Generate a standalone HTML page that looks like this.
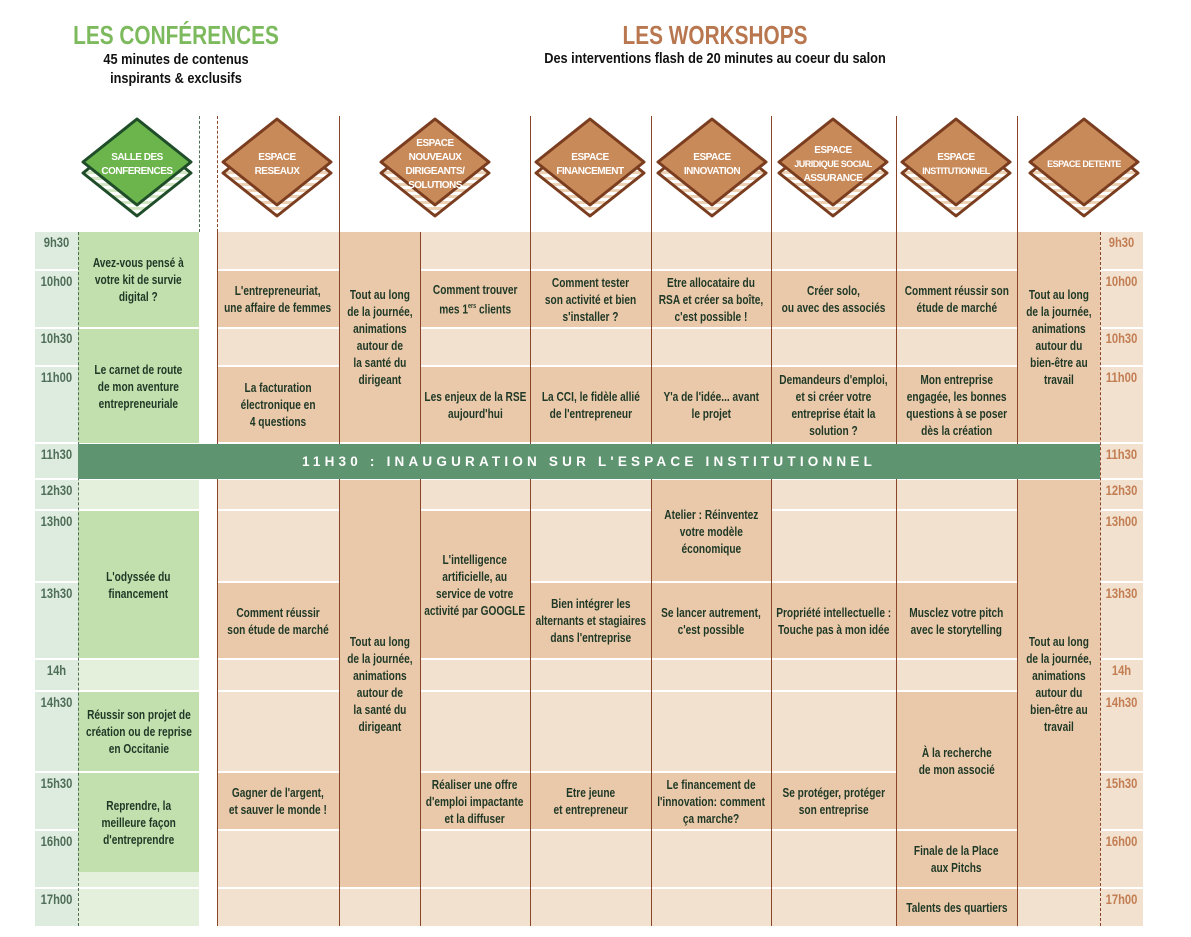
<!DOCTYPE html>
<html><head><meta charset="utf-8">
<style>
*{margin:0;padding:0;box-sizing:border-box}
body{width:1191px;height:937px;background:#fff;position:relative;overflow:hidden;font-family:"Liberation Sans",sans-serif;}
.a{position:absolute}
.c{position:absolute;display:flex;align-items:center;justify-content:center;text-align:center;font-weight:bold;font-size:13px;line-height:17px;color:#1f3826;}
.c span{display:inline-block;white-space:nowrap;transform:scaleX(.78)}
.d{background:#e9c9aa}
.g{background:#c2dfae}
.t{position:absolute;font-weight:bold;font-size:14px;text-align:center;width:43px;transform:scaleX(.8)}
.tl{color:#4f6e58}
.tr{color:#c27d52}
.hl{position:absolute;height:2px;background:#fff}
.vl{position:absolute;width:1px;background:#8a4528}
</style></head><body>

<div class="a" style="left:40px;top:20px;width:272px;text-align:center;font-weight:bold;font-size:26px;color:#7dba5e;transform:scaleX(.8)">LES CONFÉRENCES</div>
<div class="a" style="left:40px;top:50px;width:272px;text-align:center;font-size:15px;line-height:19px;color:#111;font-weight:bold;transform:scaleX(.85)">45 minutes de contenus<br>inspirants &amp; exclusifs</div>
<div class="a" style="left:515px;top:20px;width:400px;text-align:center;font-weight:bold;font-size:26px;color:#b9774f;transform:scaleX(.8)">LES WORKSHOPS</div>
<div class="a" style="left:415px;top:50px;width:600px;text-align:center;font-size:15px;color:#111;font-weight:bold;transform:scaleX(.85)">Des interventions flash de 20 minutes au coeur du salon</div>

<div class="a" style="left:199px;top:116px;height:116px;border-left:1px dashed #4f6e58"></div>
<div class="a" style="left:217px;top:116px;height:116px;border-left:1px dashed #8a4528"></div>
<div class="vl" style="left:339px;top:116px;height:116px"></div>
<div class="vl" style="left:530px;top:116px;height:116px"></div>
<div class="vl" style="left:651px;top:116px;height:116px"></div>
<div class="vl" style="left:771px;top:116px;height:116px"></div>
<div class="vl" style="left:896px;top:116px;height:116px"></div>
<div class="vl" style="left:1017px;top:116px;height:116px"></div>

<svg class="a" style="left:0;top:0" width="1191" height="232">
<defs>
<pattern id="st" width="6" height="6" patternUnits="userSpaceOnUse"><rect width="6" height="6" fill="#edd2b6"/><rect width="6" height="3" fill="#fff"/></pattern>
<pattern id="stg" width="6" height="6" patternUnits="userSpaceOnUse"><rect width="6" height="6" fill="#d4e8c6"/><rect width="6" height="3" fill="#fff"/></pattern>
</defs>
<g stroke-linejoin="round" stroke-width="3">
<g transform="translate(137,0)"><polygon points="0,130 54,173 0,216 -54,173" fill="url(#stg)" stroke="#1f4d2a"/><polygon points="0,119 54,162 0,205 -54,162" fill="#6cb54c" stroke="#1f4d2a"/></g>
<g transform="translate(277,0)"><polygon points="0,130 54,173 0,216 -54,173" fill="url(#st)" stroke="#7a3d1f"/><polygon points="0,119 54,162 0,205 -54,162" fill="#c98a5a" stroke="#7a3d1f"/></g>
<g transform="translate(435,0)"><polygon points="0,130 54,173 0,216 -54,173" fill="url(#st)" stroke="#7a3d1f"/><polygon points="0,119 54,162 0,205 -54,162" fill="#c98a5a" stroke="#7a3d1f"/></g>
<g transform="translate(590,0)"><polygon points="0,130 54,173 0,216 -54,173" fill="url(#st)" stroke="#7a3d1f"/><polygon points="0,119 54,162 0,205 -54,162" fill="#c98a5a" stroke="#7a3d1f"/></g>
<g transform="translate(712,0)"><polygon points="0,130 54,173 0,216 -54,173" fill="url(#st)" stroke="#7a3d1f"/><polygon points="0,119 54,162 0,205 -54,162" fill="#c98a5a" stroke="#7a3d1f"/></g>
<g transform="translate(833,0)"><polygon points="0,130 54,173 0,216 -54,173" fill="url(#st)" stroke="#7a3d1f"/><polygon points="0,119 54,162 0,205 -54,162" fill="#c98a5a" stroke="#7a3d1f"/></g>
<g transform="translate(956,0)"><polygon points="0,130 54,173 0,216 -54,173" fill="url(#st)" stroke="#7a3d1f"/><polygon points="0,119 54,162 0,205 -54,162" fill="#c98a5a" stroke="#7a3d1f"/></g>
<g transform="translate(1084,0)"><polygon points="0,130 54,173 0,216 -54,173" fill="url(#st)" stroke="#7a3d1f"/><polygon points="0,119 54,162 0,205 -54,162" fill="#c98a5a" stroke="#7a3d1f"/></g>
</g>
<g font-family="Liberation Sans, sans-serif" font-weight="bold" font-size="10" fill="#fff" text-anchor="middle" letter-spacing="-0.5">
<text x="137" y="160">SALLE DES</text><text x="137" y="174">CONFERENCES</text>
<text x="277" y="160">ESPACE</text><text x="277" y="174">RESEAUX</text>
<text x="435" y="146">ESPACE</text><text x="435" y="160">NOUVEAUX</text><text x="435" y="174">DIRIGEANTS/</text><text x="435" y="188">SOLUTIONS</text>
<text x="590" y="160">ESPACE</text><text x="590" y="174">FINANCEMENT</text>
<text x="712" y="160">ESPACE</text><text x="712" y="174">INNOVATION</text>
<text x="833" y="153">ESPACE</text><text x="833" y="167" font-size="9">JURIDIQUE SOCIAL</text><text x="833" y="181">ASSURANCE</text>
<text x="956" y="160">ESPACE</text><text x="956" y="174" font-size="9">INSTITUTIONNEL</text>
<text x="1084" y="167" font-size="9">ESPACE DETENTE</text>
</g>
</svg>

<div class="a" style="left:35px;top:232px;width:43px;height:694px;background:#deecdf"></div>
<div class="a" style="left:78px;top:232px;width:121px;height:694px;background:#e4f0dc"></div>
<div class="a" style="left:217px;top:232px;width:883px;height:694px;background:#f2e1cf"></div>
<div class="a" style="left:1100px;top:232px;width:43px;height:694px;background:#f2e1cf"></div>

<div class="hl" style="left:35px;top:269px;width:1108px"></div>
<div class="hl" style="left:35px;top:327px;width:1108px"></div>
<div class="hl" style="left:35px;top:365px;width:1108px"></div>
<div class="hl" style="left:35px;top:442px;width:1108px"></div>
<div class="hl" style="left:35px;top:478px;width:1108px"></div>
<div class="hl" style="left:35px;top:509px;width:1108px"></div>
<div class="hl" style="left:35px;top:581px;width:1108px"></div>
<div class="hl" style="left:35px;top:658px;width:1108px"></div>
<div class="hl" style="left:35px;top:690px;width:1108px"></div>
<div class="hl" style="left:35px;top:771px;width:1108px"></div>
<div class="hl" style="left:35px;top:829px;width:1108px"></div>
<div class="hl" style="left:35px;top:887px;width:1108px"></div>

<div class="c g" style="left:78px;top:232px;width:121px;height:95px"><span>Avez-vous pensé à<br>votre kit de survie<br>digital ?</span></div>
<div class="c g" style="left:78px;top:329px;width:121px;height:114px"><span>Le carnet de route<br>de mon aventure<br>entrepreneuriale</span></div>
<div class="c g" style="left:78px;top:511px;width:121px;height:147px"><span>L'odyssée du<br>financement</span></div>
<div class="c g" style="left:78px;top:692px;width:121px;height:79px"><span>Réussir son projet de<br>création ou de reprise<br>en Occitanie</span></div>
<div class="c g" style="left:78px;top:773px;width:121px;height:99px"><span>Reprendre, la<br>meilleure façon<br>d'entreprendre</span></div>
<div class="a" style="left:78px;top:232px;height:694px;border-left:1px dashed #4f6e58"></div>

<div class="c d" style="left:217px;top:271px;width:122px;height:56px"><span>L'entrepreneuriat,<br>une affaire de femmes</span></div>
<div class="c d" style="left:217px;top:367px;width:122px;height:75px"><span>La facturation<br>électronique en<br>4 questions</span></div>
<div class="c d" style="left:217px;top:583px;width:122px;height:75px"><span>Comment réussir<br>son étude de marché</span></div>
<div class="c d" style="left:217px;top:773px;width:122px;height:56px"><span>Gagner de l'argent,<br>et sauver le monde !</span></div>

<div class="c d" style="left:339px;top:232px;width:81px;height:210px;"><span>Tout au long<br>de la journée,<br>animations<br>autour de<br>la santé du<br>dirigeant</span></div>
<div class="c d" style="left:339px;top:480px;width:81px;height:407px"><span>Tout au long<br>de la journée,<br>animations<br>autour de<br>la santé du<br>dirigeant</span></div>

<div class="c d" style="left:420px;top:271px;width:110px;height:56px"><span>Comment trouver<br>mes 1<sup style="font-size:7px">ers</sup> clients</span></div>
<div class="c d" style="left:420px;top:367px;width:110px;height:75px"><span>Les enjeux de la RSE<br>aujourd'hui</span></div>
<div class="c d" style="left:420px;top:511px;width:110px;height:147px"><span>L'intelligence<br>artificielle, au<br>service de votre<br>activité par GOOGLE</span></div>
<div class="c d" style="left:420px;top:773px;width:110px;height:56px"><span>Réaliser une offre<br>d'emploi impactante<br>et la diffuser</span></div>

<div class="c d" style="left:530px;top:271px;width:121px;height:56px"><span>Comment tester<br>son activité et bien<br>s'installer ?</span></div>
<div class="c d" style="left:530px;top:367px;width:121px;height:75px"><span>La CCI, le fidèle allié<br>de l'entrepreneur</span></div>
<div class="c d" style="left:530px;top:583px;width:121px;height:75px"><span>Bien intégrer les<br>alternants et stagiaires<br>dans l'entreprise</span></div>
<div class="c d" style="left:530px;top:773px;width:121px;height:56px"><span>Etre jeune<br>et entrepreneur</span></div>

<div class="c d" style="left:651px;top:271px;width:120px;height:56px"><span>Etre allocataire du<br>RSA et créer sa boîte,<br>c'est possible !</span></div>
<div class="c d" style="left:651px;top:367px;width:120px;height:75px"><span>Y'a de l'idée... avant<br>le projet</span></div>
<div class="c d" style="left:651px;top:480px;width:120px;height:101px;align-items:flex-start;padding-top:26px"><span>Atelier : Réinventez<br>votre modèle<br>économique</span></div>
<div class="c d" style="left:651px;top:583px;width:120px;height:75px"><span>Se lancer autrement,<br>c'est possible</span></div>
<div class="c d" style="left:651px;top:773px;width:120px;height:56px"><span>Le financement de<br>l'innovation: comment<br>ça marche?</span></div>

<div class="c d" style="left:771px;top:271px;width:125px;height:56px"><span>Créer solo,<br>ou avec des associés</span></div>
<div class="c d" style="left:771px;top:367px;width:125px;height:75px"><span>Demandeurs d'emploi,<br>et si créer votre<br>entreprise était la<br>solution ?</span></div>
<div class="c d" style="left:771px;top:583px;width:125px;height:75px"><span>Propriété intellectuelle :<br>Touche pas à mon idée</span></div>
<div class="c d" style="left:771px;top:773px;width:125px;height:56px"><span>Se protéger, protéger<br>son entreprise</span></div>

<div class="c d" style="left:896px;top:271px;width:121px;height:56px"><span>Comment réussir son<br>étude de marché</span></div>
<div class="c d" style="left:896px;top:367px;width:121px;height:75px"><span>Mon entreprise<br>engagée, les bonnes<br>questions à se poser<br>dès la création</span></div>
<div class="c d" style="left:896px;top:583px;width:121px;height:75px"><span>Musclez votre pitch<br>avec le storytelling</span></div>
<div class="c d" style="left:896px;top:692px;width:121px;height:137px"><span>À la recherche<br>de mon associé</span></div>
<div class="c d" style="left:896px;top:831px;width:121px;height:56px"><span>Finale de la Place<br>aux Pitchs</span></div>
<div class="c d" style="left:896px;top:889px;width:121px;height:37px"><span>Talents des quartiers</span></div>

<div class="c d" style="left:1017px;top:232px;width:83px;height:210px"><span>Tout au long<br>de la journée,<br>animations<br>autour du<br>bien-être au<br>travail</span></div>
<div class="c d" style="left:1017px;top:480px;width:83px;height:407px"><span>Tout au long<br>de la journée,<br>animations<br>autour du<br>bien-être au<br>travail</span></div>

<div class="vl" style="left:217px;top:232px;height:694px"></div>
<div class="vl" style="left:339px;top:232px;height:694px"></div>
<div class="vl" style="left:420px;top:232px;height:694px"></div>
<div class="vl" style="left:530px;top:232px;height:694px"></div>
<div class="vl" style="left:651px;top:232px;height:694px"></div>
<div class="vl" style="left:771px;top:232px;height:694px"></div>
<div class="vl" style="left:896px;top:232px;height:694px"></div>
<div class="vl" style="left:1017px;top:232px;height:694px"></div>
<div class="a" style="left:1100px;top:232px;height:694px;border-left:1px dashed #8a4528"></div>

<div class="a" style="left:78px;top:444px;width:1022px;height:35px;background:#5f9470;color:#fff;font-weight:bold;font-size:13.5px;letter-spacing:4.2px;display:flex;align-items:center;justify-content:center">11H30 : INAUGURATION SUR L'ESPACE INSTITUTIONNEL</div>

<div class="t tl" style="left:35px;top:234px">9h30</div>
<div class="t tl" style="left:35px;top:273px">10h00</div>
<div class="t tl" style="left:35px;top:330px">10h30</div>
<div class="t tl" style="left:35px;top:369px">11h00</div>
<div class="t tl" style="left:35px;top:446px">11h30</div>
<div class="t tl" style="left:35px;top:482px">12h30</div>
<div class="t tl" style="left:35px;top:513px">13h00</div>
<div class="t tl" style="left:35px;top:585px">13h30</div>
<div class="t tl" style="left:35px;top:662px">14h</div>
<div class="t tl" style="left:35px;top:694px">14h30</div>
<div class="t tl" style="left:35px;top:775px">15h30</div>
<div class="t tl" style="left:35px;top:833px">16h00</div>
<div class="t tl" style="left:35px;top:891px">17h00</div>

<div class="t tr" style="left:1100px;top:234px">9h30</div>
<div class="t tr" style="left:1100px;top:273px">10h00</div>
<div class="t tr" style="left:1100px;top:330px">10h30</div>
<div class="t tr" style="left:1100px;top:369px">11h00</div>
<div class="t tr" style="left:1100px;top:446px">11h30</div>
<div class="t tr" style="left:1100px;top:482px">12h30</div>
<div class="t tr" style="left:1100px;top:513px">13h00</div>
<div class="t tr" style="left:1100px;top:585px">13h30</div>
<div class="t tr" style="left:1100px;top:662px">14h</div>
<div class="t tr" style="left:1100px;top:694px">14h30</div>
<div class="t tr" style="left:1100px;top:775px">15h30</div>
<div class="t tr" style="left:1100px;top:833px">16h00</div>
<div class="t tr" style="left:1100px;top:891px">17h00</div>
</body></html>
